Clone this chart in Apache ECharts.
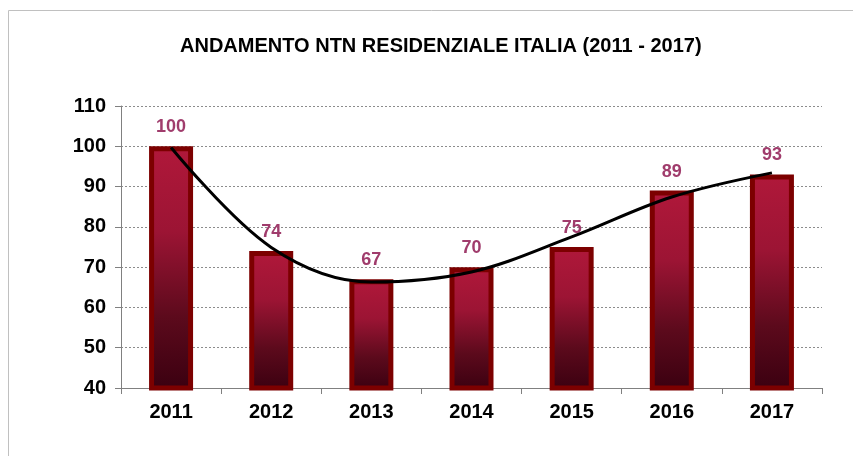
<!DOCTYPE html>
<html>
<head>
<meta charset="utf-8">
<script src="https://cdn.jsdelivr.net/npm/echarts@6/dist/echarts.min.js"></script>
<style>
  html, body { margin: 0; padding: 0; background: #fff; }
  #chart { width: 853px; height: 456px; }
</style>
</head>
<body>
<div id="chart"></div>
<script>
var anni = ['2011', '2012', '2013', '2014', '2015', '2016', '2017']
var ntn = [100, 74, 67, 70, 75, 89, 93]
// linea di tendenza (polinomiale)
var tendenza = [99.7, 74.9, 66.3, 68.8, 77.5, 87.4, 93.4]
var yTicks = [40, 50, 60, 70, 80, 90, 100, 110]

var dom = echarts.init(document.getElementById('chart'))
var option = {
    animation: false,
    textStyle: { fontFamily: 'Liberation Sans, Arial, sans-serif' },
    title: {
        text: 'ANDAMENTO NTN RESIDENZIALE ITALIA (2011 - 2017)',
        left: 175,
        top: 31,
        textStyle: { color: '#000', fontSize: 20, fontWeight: 'bold' }
    },
    graphic: [{
        type: 'rect',
        shape: { x: 8.5, y: 10.5, width: 900, height: 500 },
        style: { fill: 'none', stroke: '#c0c0c0', lineWidth: 1 },
        silent: true
    }],
    grid: { left: 121, right: 31, top: 106, bottom: 68 },
    xAxis: {
        type: 'category',
        data: anni,
        axisLine: { lineStyle: { color: '#808080', width: 1 } },
        axisTick: { show: true, alignWithLabel: false, length: 6, lineStyle: { color: '#808080' } },
        axisLabel: { color: '#000', fontSize: 20, fontWeight: 'bold', margin: 14 }
    },
    yAxis: {
        type: 'value',
        min: yTicks[0],
        max: yTicks[yTicks.length - 1],
        interval: 10,
        axisLine: { show: true, lineStyle: { color: '#808080', width: 1 } },
        axisTick: { show: true, length: 6, lineStyle: { color: '#808080' } },
        axisLabel: { color: '#000', fontSize: 20, fontWeight: 'bold', margin: 15 },
        splitLine: { lineStyle: { color: '#8c8c8c', type: [2, 2], width: 1 } }
    },
    series: [
        {
            name: 'NTN',
            type: 'bar',
            data: ntn,
            barWidth: 44,
            itemStyle: {
                borderColor: '#7c0000',
                borderWidth: 5,
                color: new echarts.graphic.LinearGradient(0, 0, 0, 1, [
                    { offset: 0, color: '#b0183a' },
                    { offset: 0.35, color: '#9c1434' },
                    { offset: 0.7, color: '#5c0a1c' },
                    { offset: 1, color: '#3a0010' }
                ])
            },
            label: {
                show: true,
                position: 'top',
                distance: 10,
                color: '#a03c6c',
                fontSize: 18,
                fontWeight: 'bold'
            },
            z: 2
        },
        {
            name: 'Tendenza',
            type: 'line',
            data: tendenza,
            smooth: 0.35,
            symbol: 'none',
            lineStyle: { color: '#000', width: 3 },
            z: 3
        }
    ]
}
dom.setOption(option)
</script>
</body>
</html>
